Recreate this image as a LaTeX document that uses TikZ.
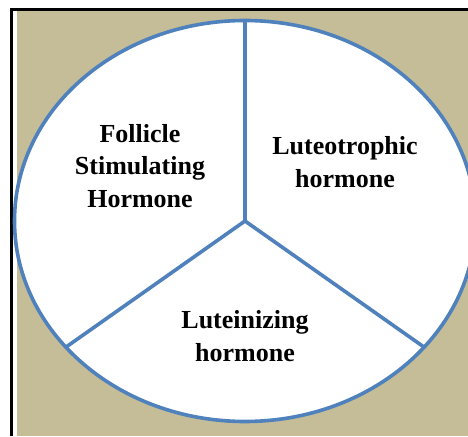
\documentclass[tikz,border=0pt]{standalone}
\usepackage{fontspec}
\setmainfont{Liberation Serif}
\usetikzlibrary{positioning}
\definecolor{tanbg}{HTML}{C4BD97}
\definecolor{pieblue}{HTML}{4F81BD}

\begin{document}
\begin{tikzpicture}[x=1pt,y=-1pt,
  slice/.style={pieblue,line width=3.6pt},
  slicetext/.style={align=center,inner sep=0pt,font=\fontsize{26}{32.5}\selectfont\bfseries}]
  \useasboundingbox (0,0) rectangle (468,436);
  \fill[white] (0,0) rectangle (468,436);
  \fill[tanbg] (17,11) rectangle (468,436);
  \draw[black,line width=3pt] (11,436) -- (11,10) -- (468,10);
  % the pie
  \coordinate (mid) at (245,221);
  \draw[slice,fill=white] (mid) ellipse [x radius=230.5pt, y radius=200.5pt];
  \coordinate (top) at ([shift={(90:230.5pt and 200.5pt)}]mid);
  \coordinate (lowleft) at ([shift={(219:230.5pt and 200.5pt)}]mid);
  \coordinate (lowright) at ([shift={(321:230.5pt and 200.5pt)}]mid);
  \draw[slice] (mid) -- (top);
  \draw[slice] (mid) -- (lowleft);
  \draw[slice] (mid) -- (lowright);
  % labels
  \node[slicetext] (fsh) at (140,166) {Follicle\\Stimulating\\Hormone};
  \node[slicetext] (lth) at (345,162) {Luteotrophic\\hormone};
  \node[slicetext] (lh) at (245,336) {Luteinizing\\hormone};
\end{tikzpicture}
\end{document}
